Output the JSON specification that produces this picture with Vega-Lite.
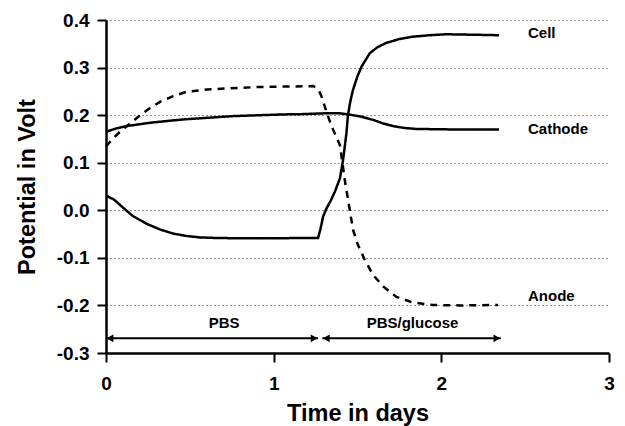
{
  "$schema": "https://vega.github.io/schema/vega-lite/v6.json",
  "width": 503,
  "height": 333,
  "autosize": {"type": "none"},
  "padding": {"left": 106, "top": 20, "right": 16, "bottom": 73},
  "config": {
    "view": {"stroke": null},
    "font": "Liberation Sans",
    "axis": {
      "domainColor": "#000", "domainWidth": 2.5, "tickColor": "#000", "tickWidth": 2, "tickSize": 9,
      "labelFont": "Liberation Sans", "labelFontWeight": "bold", "labelFontSize": 19, "labelColor": "#000", "labelFlush": false,
      "titleFont": "Liberation Sans", "titleFontWeight": "bold", "titleFontSize": 23.5, "titleColor": "#000"
    }
  },
  "datasets": {
    "curves": [
      {"series": "Cell", "t": 0, "v": 0.031}, {"series": "Cell", "t": 0.05, "v": 0.022}, {"series": "Cell", "t": 0.1, "v": 0.006},
      {"series": "Cell", "t": 0.16, "v": -0.012}, {"series": "Cell", "t": 0.24, "v": -0.028}, {"series": "Cell", "t": 0.32, "v": -0.040},
      {"series": "Cell", "t": 0.4, "v": -0.049}, {"series": "Cell", "t": 0.48, "v": -0.054}, {"series": "Cell", "t": 0.56, "v": -0.057},
      {"series": "Cell", "t": 0.64, "v": -0.058}, {"series": "Cell", "t": 0.8, "v": -0.059}, {"series": "Cell", "t": 1.0, "v": -0.059},
      {"series": "Cell", "t": 1.2, "v": -0.058}, {"series": "Cell", "t": 1.265, "v": -0.058}, {"series": "Cell", "t": 1.28, "v": -0.038},
      {"series": "Cell", "t": 1.295, "v": -0.013}, {"series": "Cell", "t": 1.315, "v": 0.004}, {"series": "Cell", "t": 1.34, "v": 0.020},
      {"series": "Cell", "t": 1.365, "v": 0.039}, {"series": "Cell", "t": 1.395, "v": 0.067}, {"series": "Cell", "t": 1.414, "v": 0.106},
      {"series": "Cell", "t": 1.434, "v": 0.162}, {"series": "Cell", "t": 1.443, "v": 0.200}, {"series": "Cell", "t": 1.458, "v": 0.230},
      {"series": "Cell", "t": 1.473, "v": 0.253}, {"series": "Cell", "t": 1.5, "v": 0.282}, {"series": "Cell", "t": 1.524, "v": 0.302},
      {"series": "Cell", "t": 1.573, "v": 0.330}, {"series": "Cell", "t": 1.62, "v": 0.343}, {"series": "Cell", "t": 1.673, "v": 0.352},
      {"series": "Cell", "t": 1.75, "v": 0.360}, {"series": "Cell", "t": 1.831, "v": 0.365}, {"series": "Cell", "t": 1.93, "v": 0.368},
      {"series": "Cell", "t": 2.03, "v": 0.370}, {"series": "Cell", "t": 2.2, "v": 0.369}, {"series": "Cell", "t": 2.344, "v": 0.368},

      {"series": "Cathode", "t": 0, "v": 0.165}, {"series": "Cathode", "t": 0.06, "v": 0.172}, {"series": "Cathode", "t": 0.123, "v": 0.177},
      {"series": "Cathode", "t": 0.262, "v": 0.184}, {"series": "Cathode", "t": 0.461, "v": 0.191}, {"series": "Cathode", "t": 0.759, "v": 0.198},
      {"series": "Cathode", "t": 1.057, "v": 0.2015}, {"series": "Cathode", "t": 1.156, "v": 0.202}, {"series": "Cathode", "t": 1.315, "v": 0.204},
      {"series": "Cathode", "t": 1.39, "v": 0.204}, {"series": "Cathode", "t": 1.454, "v": 0.201}, {"series": "Cathode", "t": 1.52, "v": 0.197},
      {"series": "Cathode", "t": 1.593, "v": 0.190}, {"series": "Cathode", "t": 1.65, "v": 0.183}, {"series": "Cathode", "t": 1.712, "v": 0.177},
      {"series": "Cathode", "t": 1.78, "v": 0.173}, {"series": "Cathode", "t": 1.851, "v": 0.171}, {"series": "Cathode", "t": 2.05, "v": 0.170},
      {"series": "Cathode", "t": 2.344, "v": 0.170},

      {"series": "Anode", "t": 0, "v": 0.134}, {"series": "Anode", "t": 0.04, "v": 0.150}, {"series": "Anode", "t": 0.083, "v": 0.165},
      {"series": "Anode", "t": 0.18, "v": 0.193}, {"series": "Anode", "t": 0.25, "v": 0.212}, {"series": "Anode", "t": 0.322, "v": 0.228},
      {"series": "Anode", "t": 0.4, "v": 0.240}, {"series": "Anode", "t": 0.48, "v": 0.249}, {"series": "Anode", "t": 0.6, "v": 0.254},
      {"series": "Anode", "t": 0.719, "v": 0.256}, {"series": "Anode", "t": 0.9, "v": 0.259}, {"series": "Anode", "t": 1.057, "v": 0.260},
      {"series": "Anode", "t": 1.236, "v": 0.261}, {"series": "Anode", "t": 1.265, "v": 0.255}, {"series": "Anode", "t": 1.286, "v": 0.239},
      {"series": "Anode", "t": 1.315, "v": 0.207}, {"series": "Anode", "t": 1.335, "v": 0.187}, {"series": "Anode", "t": 1.355, "v": 0.169},
      {"series": "Anode", "t": 1.395, "v": 0.137}, {"series": "Anode", "t": 1.41, "v": 0.100}, {"series": "Anode", "t": 1.424, "v": 0.064},
      {"series": "Anode", "t": 1.44, "v": 0.030}, {"series": "Anode", "t": 1.454, "v": 0.0}, {"series": "Anode", "t": 1.474, "v": -0.042},
      {"series": "Anode", "t": 1.503, "v": -0.073}, {"series": "Anode", "t": 1.543, "v": -0.104}, {"series": "Anode", "t": 1.593, "v": -0.136},
      {"series": "Anode", "t": 1.653, "v": -0.160}, {"series": "Anode", "t": 1.732, "v": -0.182}, {"series": "Anode", "t": 1.831, "v": -0.194},
      {"series": "Anode", "t": 1.951, "v": -0.199}, {"series": "Anode", "t": 2.11, "v": -0.200}, {"series": "Anode", "t": 2.338, "v": -0.199}
    ],
    "arrows": [
      {"phase": "PBS", "start": 0, "end": 1.265, "v": -0.269},
      {"phase": "PBS/glucose", "start": 1.29, "end": 2.355, "v": -0.269}
    ],
    "heads": [
      {"t": 0, "v": -0.269, "dir": "left"},
      {"t": 1.265, "v": -0.269, "dir": "right"},
      {"t": 1.29, "v": -0.269, "dir": "left"},
      {"t": 2.355, "v": -0.269, "dir": "right"}
    ],
    "phaseLabels": [
      {"text": "PBS", "t": 0.705, "v": -0.237},
      {"text": "PBS/glucose", "t": 1.828, "v": -0.236}
    ],
    "seriesLabels": [
      {"text": "Cell", "t": 2.517, "v": 0.372},
      {"text": "Cathode", "t": 2.517, "v": 0.170},
      {"text": "Anode", "t": 2.517, "v": -0.181}
    ]
  },
  "layer": [
    {
      "data": {"name": "curves"},
      "mark": {"type": "line", "color": "#000", "strokeWidth": 2.5, "strokeCap": "butt"},
      "encoding": {
        "x": {"field": "t", "type": "quantitative",
              "scale": {"domain": [0, 3], "nice": false, "zero": false},
              "axis": {"values": [0, 1, 2, 3], "format": "d", "grid": false, "title": "Time in days", "labelPadding": 12, "titlePadding": 8}},
        "y": {"field": "v", "type": "quantitative",
              "scale": {"domain": [-0.3, 0.4], "nice": false, "zero": false},
              "axis": {"values": [-0.3, -0.2, -0.1, 0, 0.1, 0.2, 0.3, 0.4], "format": ".1f",
                       "labelExpr": "replace(datum.label, '\u2212', '-')",
                       "grid": true, "gridColor": "#333", "gridDash": [1, 3], "gridWidth": 1,
                       "title": "Potential in Volt", "labelPadding": 8, "titlePadding": 17}},
        "detail": {"field": "series"},
        "strokeDash": {"field": "series", "type": "nominal",
                       "scale": {"domain": ["Cell", "Cathode", "Anode"], "range": [[1, 0], [1, 0], [7, 6]]},
                       "legend": null}
      }
    },
    {
      "data": {"name": "arrows"},
      "mark": {"type": "rule", "color": "#000", "strokeWidth": 2},
      "encoding": {
        "x": {"field": "start", "type": "quantitative"},
        "x2": {"field": "end"},
        "y": {"field": "v", "type": "quantitative"}
      }
    },
    {
      "data": {"name": "heads"},
      "transform": [{"filter": "datum.dir == 'left'"}],
      "mark": {"type": "point", "shape": "triangle-left", "filled": true, "color": "#000", "size": 60, "opacity": 1, "xOffset": 4},
      "encoding": {
        "x": {"field": "t", "type": "quantitative"},
        "y": {"field": "v", "type": "quantitative"}
      }
    },
    {
      "data": {"name": "heads"},
      "transform": [{"filter": "datum.dir == 'right'"}],
      "mark": {"type": "point", "shape": "triangle-right", "filled": true, "color": "#000", "size": 60, "opacity": 1, "xOffset": -4},
      "encoding": {
        "x": {"field": "t", "type": "quantitative"},
        "y": {"field": "v", "type": "quantitative"}
      }
    },
    {
      "data": {"name": "phaseLabels"},
      "mark": {"type": "text", "font": "Liberation Sans", "fontWeight": "bold", "fontSize": 15, "color": "#000", "align": "center", "baseline": "middle"},
      "encoding": {
        "x": {"field": "t", "type": "quantitative"},
        "y": {"field": "v", "type": "quantitative"},
        "text": {"field": "text"}
      }
    },
    {
      "data": {"name": "seriesLabels"},
      "mark": {"type": "text", "font": "Liberation Sans", "fontWeight": "bold", "fontSize": 15, "color": "#000", "align": "left", "baseline": "middle"},
      "encoding": {
        "x": {"field": "t", "type": "quantitative"},
        "y": {"field": "v", "type": "quantitative"},
        "text": {"field": "text"}
      }
    }
  ]
}
